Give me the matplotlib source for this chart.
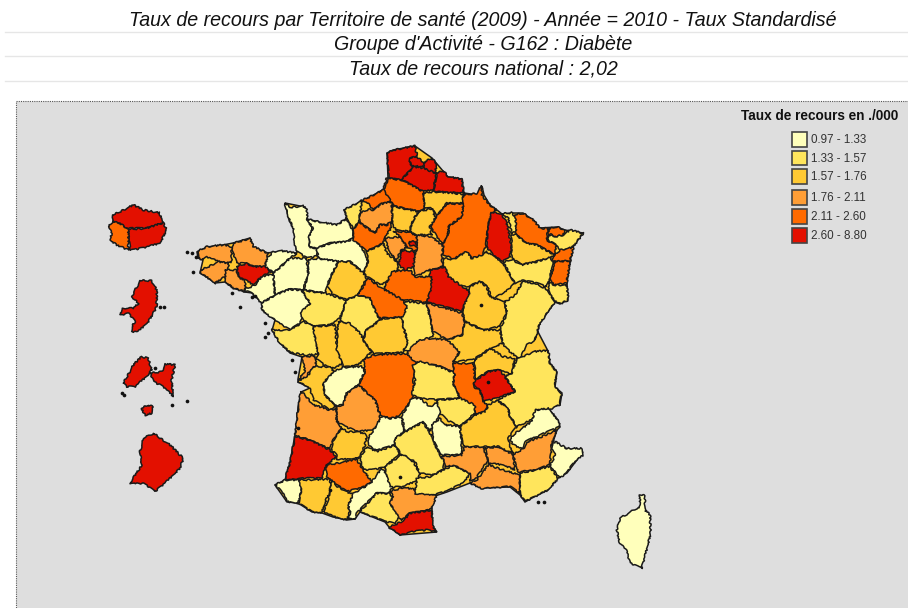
import matplotlib
matplotlib.use("Agg")
import matplotlib.pyplot as plt
from matplotlib.patches import Polygon, Rectangle

plt.rcParams["font.family"] = ["Liberation Sans", "DejaVu Sans"]

TITLES = [
    "Taux de recours par Territoire de santé (2009) - Année = 2010 - Taux Standardisé",
    "Groupe d'Activité - G162 : Diabète",
    "Taux de recours national : 2,02",
]
LEGEND_TITLE = "Taux de recours en ./000"
CLASS_LABELS = ["0.97 - 1.33", "1.33 - 1.57", "1.57 - 1.76", "1.76 - 2.11", "2.11 - 2.60", "2.60 - 8.80"]
CLASS_COLORS = ["#FFFFBB", "#FFE55C", "#FFC933", "#FF9E36", "#FF6A00", "#E31000"]

# mainland outline in picture pixels, sits under the territories
COAST = [(387,153),(393,150),(415,146),(432,158),(443,171),(448,177),(462,179),(464,193),(478,195),(482,186),(484,195),
         (490,205),(497,210),(502,214),(512,213),(523,213),(533,220),(540,228),(557,227),(565,230),(583,233),(573,247),
         (570,262),(567,283),(568,300),(560,304),(555,302),(540,323),(535,340),(537,330),(548,351),(550,363),(557,372),
         (555,387),(562,393),(560,405),(548,408),(558,420),(560,427),(557,430),(552,445),(583,452),(567,473),(558,478),
         (548,490),(532,498),(525,502),(520,495),(510,487),(482,488),(470,483),(447,492),(432,497),(432,525),(437,532),
         (400,535),(389,527),(385,522),(360,512),(355,519),(347,520),(333,517),(322,513),(312,512),(298,503),(287,502),
         (275,485),(285,480),(290,462),(295,435),(297,420),(298,407),(301,392),(310,388),(298,382),(298,379),(302,357),
         (290,353),(280,343),(272,330),(273,327),(275,320),(262,310),(262,303),(252,293),(245,292),(233,288),(225,282),
         (215,283),(208,278),(200,273),(203,260),(198,258),(197,252),(207,247),(223,245),(233,243),(250,238),(253,247),
         (268,253),(273,252),(297,253),(294,230),(289,220),(285,203),(305,207),(307,219),(323,223),(337,225),(347,218),
         (344,210),(362,201),(383,190),(388,178)]

# territory outlines: (class, points), one list per crop
# west: crop origin 190,130, units are 1/3 pixel
WEST = [
    (0, [(285,220),(300,232),(340,228),(350,240),(352,268),(368,295),(358,320),(358,350),(380,355),(382,378),(350,385),(322,365),(312,340),(312,300),(298,270),(290,245)]),
    (0, [(352,268),(400,278),(440,285),(470,265),(488,300),(490,325),(470,335),(420,340),(380,355),(358,350),(358,320),(368,295)]),
    (0, [(380,355),(420,340),(470,335),(490,325),(515,350),(535,395),(520,430),(480,395),(445,395),(385,385)]),
    (1, [(462,240),(515,212),(510,250),(508,275),(490,297),(470,265)]),
    (4, [(515,212),(580,180),(590,145),(630,150),(630,200),(605,215),(575,222),(550,240),(535,220)]),
    (3, [(510,250),(535,238),(550,240),(575,222),(605,215),(608,272),(590,285),(570,285),(555,310),(508,278)]),
    (4, [(508,278),(555,310),(570,285),(590,285),(608,272),(600,300),(585,320),(580,340),(530,365),(490,330),(490,297)]),
    (2, [(530,365),(580,340),(590,370),(610,385),(625,400),(620,440),(570,465),(530,440),(520,430),(535,395)]),
    (2, [(445,395),(480,395),(520,430),(530,445),(505,495),(470,510),(430,495),(410,470),(425,435)]),
    (0, [(355,390),(385,385),(445,395),(425,435),(410,470),(405,490),(340,480),(355,430)]),
    (0, [(225,390),(250,365),(270,362),(320,370),(300,385),(250,430),(225,410)]),
    (0, [(250,430),(300,385),(350,385),(355,430),(340,480),(300,478),(255,495)]),
    (0, [(160,480),(195,465),(215,440),(250,432),(255,495),(215,520),(185,490)]),
    (3, [(130,340),(180,325),(190,350),(235,370),(225,410),(190,410),(170,400),(140,400),(125,360)]),
    (3, [(22,365),(50,350),(100,345),(125,350),(125,395),(115,400),(85,395),(50,380),(40,390),(25,385)]),
    (3, [(35,420),(85,395),(115,400),(115,420),(105,440),(75,460),(55,445),(30,430)]),
    (3, [(105,420),(140,420),(145,440),(165,455),(165,485),(130,475),(105,455)]),
    (5, [(140,410),(170,400),(190,410),(225,410),(245,425),(215,440),(190,465),(165,450),(145,440)]),
    (0, [(215,520),(255,495),(300,478),(335,480),(360,520),(330,580),(300,600),(255,570),(215,540)]),
    (1, [(335,480),(405,490),(470,510),(450,565),(420,585),(370,590),(340,570),(330,550),(360,520)]),
    (1, [(470,510),(505,495),(540,505),(570,570),(530,600),(520,625),(490,600),(450,570)]),
]
# north-east: crop origin 380,130
NORTH = [
    (5, [(22,70),(40,60),(105,48),(112,80),(90,85),(90,100),(100,110),(65,150),(25,145)]),
    (5, [(90,85),(110,80),(135,100),(130,110),(100,108),(90,100)]),
    (5, [(135,95),(155,85),(170,100),(165,130),(140,125),(130,110)]),
    (5, [(65,150),(100,110),(130,115),(170,130),(160,180),(130,185),(100,170),(75,155)]),
    (5, [(170,130),(190,122),(205,140),(245,148),(252,190),(160,185)]),
    (4, [(25,145),(65,150),(75,155),(130,185),(135,235),(115,245),(40,228),(12,180)]),
    (2, [(130,190),(160,185),(250,192),(250,220),(200,220),(170,260),(155,235),(135,235)]),
    (4, [(250,195),(290,190),(305,168),(305,195),(330,225),(350,240),(335,250),(325,285),(318,350),(305,380),(275,385),(260,365),(220,388),(188,372),(188,345),(205,310),(205,290),(245,260)]),
    (4, [(200,222),(250,220),(245,260),(205,290),(205,310),(188,345),(150,290),(165,265)]),
    (5, [(335,248),(360,250),(378,270),(395,350),(390,380),(365,395),(340,375),(318,350),(325,285)]),
    (1, [(365,252),(395,248),(410,265),(410,305),(395,310),(385,265)]),
    (4, [(405,255),(430,250),(460,270),(480,295),(505,295),(500,330),(530,345),(525,375),(470,345),(440,340),(410,315)]),
    (4, [(505,298),(530,290),(555,300),(550,315),(525,320),(505,310)]),
    (1, [(505,315),(525,320),(550,315),(570,300),(610,310),(580,350),(540,365),(530,345),(500,330)]),
    (4, [(520,380),(540,360),(580,352),(570,395),(515,395)]),
    (2, [(395,315),(410,315),(440,340),(470,345),(525,375),(510,385),(470,395),(425,405),(395,385)]),
    (4, [(525,395),(570,392),(560,460),(520,465),(510,445)]),
    (1, [(370,398),(395,388),(425,405),(470,395),(510,382),(520,395),(510,445),(500,470),(470,460),(430,450),(405,460),(385,425)]),
    (1, [(505,455),(520,465),(560,465),(565,510),(540,522),(520,510),(505,480)]),
    (2, [(188,385),(220,388),(260,365),(275,385),(305,375),(320,365),(345,380),(365,395),(385,425),(405,460),(370,490),(335,505),(320,465),(300,455),(265,470),(220,465),(190,420)]),
    (2, [(250,520),(270,470),(300,455),(320,470),(330,500),(375,515),(380,550),(360,590),(310,600),(250,570)]),
    (5, [(150,420),(195,410),(205,440),(270,485),(245,545),(190,530),(140,515),(140,490)]),
    (4, [(15,470),(35,425),(90,420),(105,440),(155,440),(155,470),(140,520),(95,510),(60,510),(15,480)]),
    (3, [(110,315),(155,320),(190,350),(185,385),(190,410),(150,420),(105,440),(95,400),(110,360)]),
    (3, [(15,325),(60,320),(80,350),(60,365),(50,395),(25,360)]),
    (4, [(40,305),(90,305),(110,320),(110,360),(105,365),(80,350),(60,320)]),
    (5, [(65,362),(105,365),(100,410),(75,420),(55,405)]),
    (5, [(88,335),(108,335),(110,348),(90,348)]),
    (2, [(35,228),(115,245),(100,270),(88,305),(50,300),(38,290)]),
    (2, [(115,245),(158,235),(165,265),(150,290),(155,315),(110,315),(88,305),(100,270)]),
]
# south-west: crop origin 230,330
SOUTH_WEST = [
    (1, [(125,0),(150,40),(180,68),(230,75),(265,72),(258,40),(250,-10),(220,-24),(180,0)]),
    (2, [(250,-10),(315,-15),(320,40),(338,100),(315,115),(290,110),(255,85),(265,72),(258,40)]),
    (2, [(325,-25),(360,-20),(390,10),(400,30),(425,65),(400,90),(385,105),(340,112),(320,60)]),
    (2, [(450,-30),(515,-45),(520,-10),(535,40),(520,68),(430,72),(400,30),(410,0)]),
    (1, [(490,-35),(525,-85),(590,-80),(605,-20),(610,20),(565,40),(540,65),(520,60),(535,40),(520,-10),(515,-40)]),
    (4, [(400,90),(430,75),(540,70),(560,95),(550,150),(555,195),(515,250),(485,268),(450,255),(435,210),(385,165),(405,125)]),
    (3, [(215,80),(255,78),(258,105),(235,130),(235,150),(205,148),(225,125)]),
    (2, [(250,110),(300,110),(312,125),(280,160),(285,195),(320,230),(300,240),(250,210),(240,175),(205,155),(235,135)]),
    (0, [(312,125),(340,112),(395,110),(405,125),(385,165),(350,190),(340,225),(315,228),(285,195),(280,160)]),
    (3, [(385,165),(435,210),(450,255),(450,285),(425,300),(385,305),(345,290),(320,275),(320,230),(340,225),(350,190)]),
    (3, [(212,185),(225,195),(250,225),(300,240),(320,235),(320,275),(335,295),(310,330),(300,358),(270,345),(240,330),(195,315),(200,270),(205,230)]),
    (5, [(195,320),(240,330),(270,345),(300,360),(320,380),(290,405),(275,445),(225,445),(165,450),(180,395)]),
    (2, [(335,295),(350,305),(385,305),(410,315),(405,345),(395,370),(385,385),(320,390),(320,375),(302,358),(310,330)]),
    (4, [(290,405),(320,400),(380,388),(400,420),(425,455),(405,470),(350,485),(320,465),(290,440)]),
    (0, [(135,465),(165,450),(220,450),(215,480),(205,520),(170,515),(160,490)]),
    (2, [(205,450),(300,448),(305,480),(290,505),(275,550),(245,545),(205,520),(215,480)]),
    (2, [(305,450),(320,468),(350,485),(370,495),(355,530),(360,545),(350,570),(310,560),(280,545),(295,505)]),
    (0, [(405,470),(425,455),(455,415),(495,465),(475,490),(440,490),(410,520),(380,550),(375,568),(355,565),(362,545),(355,525),(370,490)]),
    (1, [(390,545),(440,490),(475,490),(490,500),(480,520),(510,560),(495,580),(465,575)]),
    (3, [(480,485),(520,472),(560,480),(620,495),(610,525),(600,540),(540,550),(515,572),(495,545),(480,520),(490,500)]),
    (5, [(478,592),(520,572),(540,550),(605,540),(610,590),(620,605),(590,600),(550,605),(510,615)]),
    (1, [(390,385),(410,350),(440,365),(495,345),(510,370),(465,412),(425,420),(400,420)]),
    (1, [(465,410),(520,370),(550,395),(570,430),(565,450),(520,470),(480,472),(470,440)]),
    (0, [(415,325),(455,260),(480,265),(515,260),(522,305),(495,330),(495,345),(440,362),(415,345)]),
    (0, [(515,260),(545,205),(570,205),(600,230),(625,215),(640,240),(620,270),(600,305),(578,275),(525,305)]),
]
# south-east: crop origin 420,330
SOUTH_EAST = [
    (3, [(-10,35),(20,25),(90,30),(120,65),(100,95),(105,130),(60,110),(20,100),(-10,100),(-40,70),(-20,45)]),
    (2, [(165,90),(210,55),(250,80),(285,85),(275,135),(240,120),(205,125),(165,150)]),
    (1, [(290,85),(320,75),(340,65),(385,62),(390,100),(410,125),(405,170),(425,190),(420,225),(385,240),(350,240),(335,270),(290,290),(270,260),(265,235),(230,210),(285,185),(255,140),(275,130)]),
    (5, [(160,155),(205,125),(240,120),(255,140),(285,185),(230,205),(190,215),(180,180),(165,170)]),
    (4, [(100,100),(160,100),(165,150),(160,170),(180,180),(190,215),(205,225),(195,245),(165,255),(160,230),(120,205),(100,160)]),
    (1, [(50,210),(120,205),(165,225),(165,250),(120,290),(80,270),(60,250)]),
    (0, [(35,285),(60,265),(75,285),(120,290),(125,330),(125,375),(60,375),(40,330)]),
    (1, [(-10,445),(30,440),(100,405),(150,430),(135,455),(80,485),(35,495),(-15,490)]),
    (3, [(65,380),(125,375),(135,350),(190,350),(205,395),(195,405),(165,450),(150,455),(150,430),(100,405),(75,410)]),
    (3, [(195,355),(235,350),(280,375),(285,420),(250,405),(205,400)]),
    (3, [(150,460),(170,450),(205,405),(250,420),(300,435),(300,490),(270,470),(185,475)]),
    (2, [(120,290),(165,255),(195,245),(205,225),(230,210),(265,235),(270,260),(290,290),(265,325),(270,350),(280,370),(235,350),(190,350),(135,350),(125,330)]),
    (3, [(280,375),(310,355),(325,335),(360,322),(410,300),(395,345),(390,405),(345,420),(295,425),(285,400)]),
    (0, [(270,330),(285,310),(335,275),(345,240),(385,235),(415,270),(420,290),(385,305),(345,322),(320,330),(305,355),(280,345)]),
    (0, [(390,410),(405,375),(395,350),(405,335),(440,355),(485,355),(490,375),(460,400),(440,430),(420,445),(405,425)]),
    (1, [(300,430),(345,420),(390,410),(415,445),(385,480),(335,505),(315,515),(300,495)]),
    (0, [(660,495),(675,497),(675,540),(690,555),(692,610),(680,660),(665,715),(630,700),(620,660),(600,640),(590,600),(600,565),(640,540),(658,535)]),
]
# Paris-area insets at the left: crop origin 100,190
INSETS = [
    (5, [(40,75),(100,45),(130,60),(178,68),(190,100),(140,115),(90,115),(85,118),(60,100),(38,95)]),
    (5, [(85,118),(140,115),(190,98),(200,120),(180,160),(135,172),(90,182)]),
    (4, [(38,95),(60,100),(85,118),(85,180),(50,165),(30,150),(35,130),(25,110)]),
    (5, [(120,272),(155,272),(170,300),(170,350),(160,370),(145,395),(115,425),(95,425),(95,410),(105,395),(85,370),(60,375),(68,355),(100,355),(115,340),(95,320)]),
    (5, [(70,580),(100,525),(125,500),(145,505),(155,540),(145,555),(105,590),(80,590)]),
    (5, [(150,550),(185,545),(197,522),(225,525),(215,570),(220,620),(190,590),(160,575)]),
    (5, [(125,655),(145,645),(160,650),(155,670),(135,675)]),
    (5, [(160,730),(210,765),(250,805),(240,835),(205,870),(165,905),(130,880),(90,880),(125,825),(120,785),(130,745)]),
]
# directly in picture pixels
MIDDLE = [
    (4, [(368,278),(377,285),(385,290),(403,300),(407,307),(403,317),(392,318),(378,318),(370,298),(358,295)]),
    (3, [(427,303),(462,313),(465,322),(462,335),(447,340),(432,331),(431,320)]),
    (2, [(465,322),(483,330),(500,330),(503,343),(488,350),(473,360),(453,362),(460,352),(447,340),(462,335)]),
    (1, [(500,330),(507,313),(505,302),(515,295),(523,281),(537,284),(548,290),(555,302),(540,323),(535,340),(527,345),(520,357),(517,358),(505,347),(503,343)]),
    (1, [(417,362),(423,362),(440,367),(455,373),(453,383),(460,398),(437,400),(420,398),(412,395),(415,380),(413,365)]),
    (1, [(395,445),(395,438),(405,432),(423,422),(430,433),(433,440),(440,455),(445,462),(443,470),(432,475),(420,473),(415,462),(400,453)]),
]
ISLET_X = [192, 196, 193, 187, 232, 240, 252, 255, 265, 268, 265, 292, 295, 122, 124, 187, 172, 155, 160, 164, 298, 400, 488, 481, 330, 538, 544]
ISLET_Y = [253, 257, 272, 252, 293, 307, 297, 296, 323, 333, 337, 360, 372, 393, 395, 401, 405, 368, 307, 307, 428, 477, 382, 305, 490, 502, 502]


def crop_points(points, x0, y0):
    return [(x0 + px / 3, y0 + py / 3) for px, py in points]


fig = plt.figure(figsize=(9.08, 6.08), dpi=100)
ax = fig.add_axes([0, 0, 1, 1])
ax.set_xlim(0, 908)
ax.set_ylim(608, 0)
ax.axis("off")

for i, title in enumerate(TITLES):
    ax.text(483, 20 + 24.3 * i, title, ha="center", va="center", style="italic", fontsize=14.1, color="#111111")
    ax.plot([5, 908], [32 + 24.4 * i] * 2, color="#E6E6E6", lw=1)

ax.add_patch(Rectangle((16, 101), 900, 520, facecolor="#DEDEDE", edgecolor="#555555", lw=0.8, ls=(0, (1, 1))))
ax.add_patch(Polygon(COAST, closed=True, facecolor=CLASS_COLORS[2], edgecolor="#1A1A1A", lw=1.1))

zones = (
    [(c, crop_points(p, 190, 130)) for c, p in WEST]
    + [(c, crop_points(p, 380, 130)) for c, p in NORTH]
    + [(c, crop_points(p, 230, 330)) for c, p in SOUTH_WEST]
    + [(c, crop_points(p, 420, 330)) for c, p in SOUTH_EAST]
    + [(c, crop_points(p, 100, 190)) for c, p in INSETS]
    + MIDDLE
)
for cls, pts in zones:
    patch = Polygon(pts, closed=True, facecolor=CLASS_COLORS[cls], edgecolor="#1A1A1A", lw=1.1, joinstyle="round")
    patch.set_sketch_params(scale=0.8, length=7, randomness=12)
    ax.add_patch(patch)
ax.scatter(ISLET_X, ISLET_Y, s=7, color="#111111", linewidths=0, zorder=3)

ax.text(820, 116, LEGEND_TITLE, ha="center", va="center", fontweight="bold", fontsize=9.8, color="#111111")
legend_tops = [132, 150.5, 169, 190, 209, 228]
for top, color, label in zip(legend_tops, CLASS_COLORS, CLASS_LABELS):
    ax.add_patch(Rectangle((792, top), 15, 14.5, facecolor=color, edgecolor="#444444", lw=1.2))
    ax.text(811, top + 8, label, ha="left", va="center", fontsize=8.4, color="#333333")

fig.savefig("out.png", dpi=100)
